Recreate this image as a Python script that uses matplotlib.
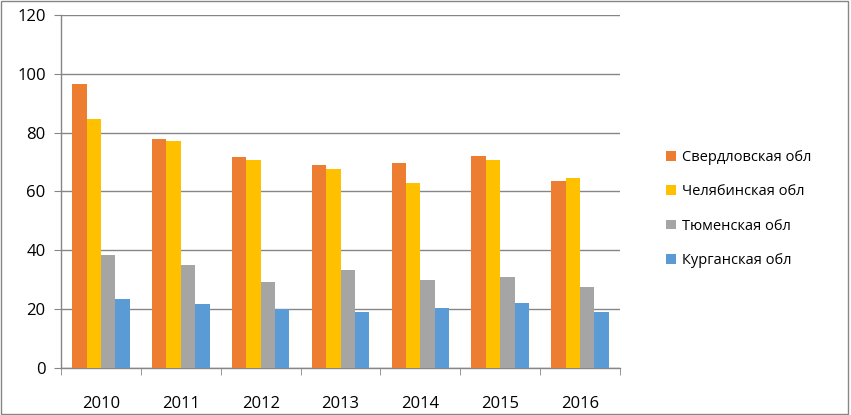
import matplotlib
matplotlib.use("Agg")
import matplotlib.pyplot as plt
import numpy as np

years = ["2010", "2011", "2012", "2013", "2014", "2015", "2016"]
sverdlovsk = [96.5, 77.7, 71.6, 69.1, 69.7, 72.2, 63.6]
chelyabinsk = [84.5, 77.1, 70.6, 67.7, 62.8, 70.7, 64.7]
tyumen = [38.3, 34.9, 29.4, 33.4, 29.9, 31.0, 27.6]
kurgan = [23.5, 21.6, 20.0, 19.0, 20.5, 22.1, 19.0]
series_names = ["Свердловская обл", "Челябинская обл", "Тюменская обл", "Курганская обл"]
colors = ["#ED7D31", "#FFC000", "#A5A5A5", "#5B9BD5"]

plt.rcParams['font.family'] = ['Open Sans', 'DejaVu Sans']

fig = plt.figure(figsize=(8.51, 4.15), dpi=100)
ax = fig.add_axes([61/851, 1-368/415, (620-61)/851, (368-15)/415])

x = np.arange(len(years))
w = 0.18
data = [sverdlovsk, chelyabinsk, tyumen, kurgan]
for i, (vals, name, c) in enumerate(zip(data, series_names, colors)):
    ax.bar(x + (i - 1.5) * w, vals, width=w, color=c, label=name, zorder=3)

ax.set_xlim(-0.5, len(years) - 0.5)
ax.set_ylim(0, 120)
ax.set_yticks(np.arange(0, 121, 20))
ax.yaxis.grid(True, color="#868686", linewidth=1.0, zorder=0)
ax.set_xticks(x)
ax.set_xticklabels(years)
ax.set_xticks(np.arange(-0.5, len(years), 1.0), minor=True)
ax.tick_params(axis='x', which='major', length=0, pad=20, labelsize=12)
ax.tick_params(axis='x', which='minor', length=5, color="#868686", direction='out')
ax.tick_params(axis='y', length=5, color="#868686", labelsize=12, pad=6)
for s in ["top", "right"]:
    ax.spines[s].set_visible(False)
for s in ["left", "bottom"]:
    ax.spines[s].set_color("#868686")
    ax.spines[s].set_linewidth(1.0)

leg = fig.legend(loc="upper left", bbox_to_anchor=(653/851, 1-137/415), frameon=False,
                 fontsize=10.5, handlelength=0.65, handleheight=0.65, labelspacing=1.32,
                 handletextpad=0.45)

fig.add_artist(plt.Rectangle((0.001, 0.003), 0.996, 0.995, transform=fig.transFigure,
                             fill=False, edgecolor="#868686", linewidth=1.0))

fig.savefig("out.png", dpi=100)
